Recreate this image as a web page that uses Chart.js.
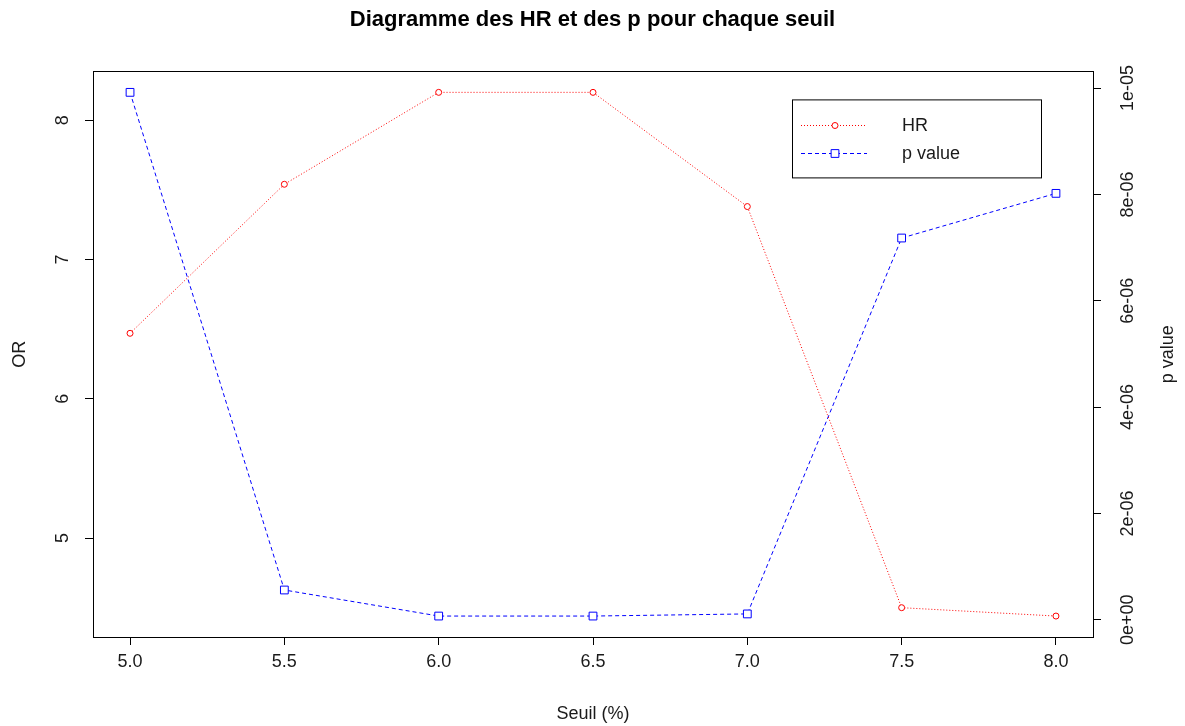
<!DOCTYPE html>
<html>
<head>
<meta charset="utf-8">
<script src="https://cdn.jsdelivr.net/npm/chart.js@4.4.1/dist/chart.umd.min.js"></script>
<style>
  html, body { margin: 0; padding: 0; background: #ffffff; }
  #wrap { width: 1185px; height: 726px; position: relative; }
</style>
</head>
<body>
<div id="wrap"><canvas id="c" width="1185" height="726"></canvas></div>
<script>
// ---- data ----
const seuils = [5.0, 5.5, 6.0, 6.5, 7.0, 7.5, 8.0];
const hrValues = [6.47, 7.54, 8.20, 8.20, 7.38, 4.50, 4.44];
const pValues = [9.92e-6, 0.56e-6, 0.07e-6, 0.07e-6, 0.11e-6, 7.18e-6, 8.02e-6];

const xTicks = [5.0, 5.5, 6.0, 6.5, 7.0, 7.5, 8.0];
const xTickLabels = ['5.0', '5.5', '6.0', '6.5', '7.0', '7.5', '8.0'];
const orTicks = [5, 6, 7, 8];
const orTickLabels = ['5', '6', '7', '8'];
const pTicks = [0, 2e-6, 4e-6, 6e-6, 8e-6, 1e-5];
const pTickLabels = ['0e+00', '2e-06', '4e-06', '6e-06', '8e-06', '1e-05'];

const titleText = 'Diagramme des HR et des p pour chaque seuil';
const xTitle = 'Seuil (%)';
const yLeftTitle = 'OR';
const yRightTitle = 'p value';
const legendLabels = ['HR', 'p value'];

const seriesColors = ['#ff0000', '#0000ff'];
const seriesDash = [[1, 2], [4, 3]];
const seriesPoint = ['circle', 'rect'];
const seriesRadius = [3, 5.5];

// R-style 4% axis extension
function rRange(vals) {
  const lo = Math.min(...vals), hi = Math.max(...vals);
  const pad = (hi - lo) * 0.04;
  return [lo - pad, hi + pad];
}
const xr = rRange(seuils), hr = rRange(hrValues), pr = rRange(pValues);

const FONT = "'Liberation Sans', Arial, sans-serif";
const TXT = '#1a1a1a';

function fixedTicks(vals) {
  return function (scale) { scale.ticks = vals.map(v => ({ value: v })); };
}
function labelFrom(vals, labels) {
  return function (value) {
    const i = vals.findIndex(v => Math.abs(v - value) < 1e-12);
    return i >= 0 ? labels[i] : '';
  };
}

const decorPlugin = {
  id: 'decor',
  afterDraw(chart) {
    const { ctx, chartArea: a } = chart;
    ctx.save();
    // box
    ctx.strokeStyle = '#000';
    ctx.lineWidth = 1;
    ctx.setLineDash([]);
    ctx.strokeRect(Math.round(a.left) + 0.5, Math.round(a.top) + 0.5,
                   Math.round(a.right - a.left), Math.round(a.bottom - a.top));
    // right axis title (bottom-to-top like R)
    ctx.fillStyle = TXT;
    ctx.font = '18px ' + FONT;
    ctx.textAlign = 'center';
    ctx.textBaseline = 'middle';
    ctx.translate(a.right + 75, (a.top + a.bottom) / 2);
    ctx.rotate(-Math.PI / 2);
    ctx.fillText(yRightTitle, 0, 0);
    ctx.restore();

    // legend
    ctx.save();
    const lx = a.right - 301, ly = a.top + 28, lw = 249, lh = 78;
    ctx.fillStyle = '#fff';
    ctx.fillRect(lx, ly, lw, lh);
    ctx.strokeStyle = '#000';
    ctx.lineWidth = 1;
    ctx.strokeRect(lx + 0.5, ly + 0.5, lw, lh);
    const rows = [ly + 26, ly + 53.5];
    legendLabels.forEach((lab, i) => {
      const y = Math.round(rows[i]) + 0.5;
      ctx.save();
      ctx.strokeStyle = seriesColors[i];
      ctx.lineWidth = 1;
      ctx.setLineDash(seriesDash[i]);
      ctx.beginPath();
      ctx.moveTo(lx + 9, y);
      ctx.lineTo(lx + 75, y);
      ctx.stroke();
      ctx.restore();
      ctx.save();
      ctx.setLineDash([]);
      ctx.fillStyle = '#fff';
      ctx.strokeStyle = seriesColors[i];
      ctx.lineWidth = 1;
      Chart.helpers.drawPoint(ctx, { pointStyle: seriesPoint[i], rotation: 0, borderWidth: 1, radius: seriesRadius[i] }, lx + 43, y);
      ctx.restore();
      ctx.fillStyle = TXT;
      ctx.font = '18px ' + FONT;
      ctx.textAlign = 'left';
      ctx.textBaseline = 'middle';
      ctx.fillText(lab, lx + 110, rows[i] + 1);
    });
    ctx.restore();
  }
};

function makeDataset(i, values, axisId) {
  return {
    label: legendLabels[i],
    data: seuils.map((x, k) => ({ x: x, y: values[k] })),
    yAxisID: axisId,
    showLine: true,
    borderColor: seriesColors[i],
    borderWidth: 1,
    borderDash: seriesDash[i],
    pointStyle: seriesPoint[i],
    pointRadius: seriesRadius[i],
    pointBorderWidth: 1,
    pointBorderColor: seriesColors[i],
    pointBackgroundColor: '#ffffff',
    pointHoverRadius: seriesRadius[i]
  };
}

new Chart(document.getElementById('c'), {
  type: 'scatter',
  data: {
    datasets: [
      makeDataset(0, hrValues, 'yOR'),
      makeDataset(1, pValues, 'yP')
    ]
  },
  options: {
    responsive: false,
    animation: false,
    events: [],
    layout: { padding: 0 },
    plugins: {
      legend: { display: false },
      tooltip: { enabled: false },
      title: {
        display: true,
        text: titleText,
        color: '#000',
        font: { family: FONT, size: 22, weight: 'bold' },
        padding: { top: 7, bottom: 38 }
      }
    },
    scales: {
      x: {
        type: 'linear',
        position: 'bottom',
        min: xr[0], max: xr[1],
        afterBuildTicks: fixedTicks(xTicks),
        afterFit(s) { s.height = 89; },
        border: { display: false },
        grid: { display: true, drawOnChartArea: false, drawTicks: true, tickLength: 8, tickColor: '#000', tickWidth: 1 },
        ticks: {
          autoSkip: false, maxRotation: 0, minRotation: 0,
          padding: 6, color: TXT,
          font: { family: FONT, size: 18 },
          callback: labelFrom(xTicks, xTickLabels)
        },
        title: {
          display: true, text: xTitle, color: TXT,
          font: { family: FONT, size: 18 },
          padding: { top: 0, bottom: 1 }
        }
      },
      yOR: {
        type: 'linear',
        position: 'left',
        min: hr[0], max: hr[1],
        afterBuildTicks: fixedTicks(orTicks),
        afterFit(s) { s.width = 93; },
        border: { display: false },
        grid: { display: true, drawOnChartArea: false, drawTicks: true, tickLength: 8, tickColor: '#000', tickWidth: 1 },
        ticks: {
          autoSkip: false, minRotation: 90, maxRotation: 90,
          crossAlign: 'center',
          padding: 17, color: TXT,
          font: { family: FONT, size: 18 },
          callback: labelFrom(orTicks, orTickLabels)
        },
        title: {
          display: true, text: yLeftTitle, color: TXT,
          font: { family: FONT, size: 18 },
          padding: { top: 9, bottom: 0 }
        }
      },
      yP: {
        type: 'linear',
        position: 'right',
        min: pr[0], max: pr[1],
        afterBuildTicks: fixedTicks(pTicks),
        afterFit(s) { s.width = 92; },
        border: { display: false },
        grid: { display: true, drawOnChartArea: false, drawTicks: true, tickLength: 8, tickColor: '#000', tickWidth: 1 },
        ticks: {
          autoSkip: false, minRotation: 90, maxRotation: 90,
          crossAlign: 'center',
          padding: 2, color: TXT,
          font: { family: FONT, size: 18 },
          callback: labelFrom(pTicks, pTickLabels)
        }
      }
    }
  },
  plugins: [decorPlugin]
});
</script>
</body>
</html>
